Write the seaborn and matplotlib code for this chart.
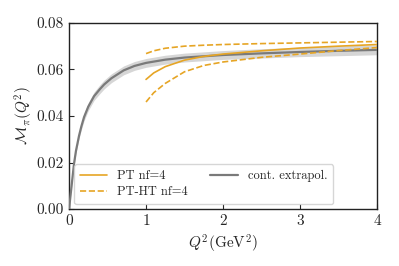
import numpy as np
import pandas as pd
import matplotlib
matplotlib.use("Agg")
import matplotlib.pyplot as plt
import seaborn as sns

# ---- data ----
q2_ext = [0.0, 0.015, 0.03, 0.05, 0.065, 0.09, 0.13, 0.16, 0.195, 0.25, 0.325, 0.4, 0.455,
          0.55, 0.71, 0.85, 1.0, 1.25, 1.5, 2.0, 2.5, 3.0, 3.5, 4.0]
m_ext = [0.0, 0.0045, 0.009, 0.0150, 0.0195, 0.0250, 0.0315, 0.0355, 0.0395, 0.0440, 0.0485, 0.0515,
         0.0535, 0.0562, 0.0596, 0.0615, 0.0628, 0.0642, 0.0651, 0.0662, 0.0669, 0.0675, 0.0680, 0.0684]
m_ext_err = [0.0, 0.0003, 0.0005, 0.0007, 0.0008, 0.0010, 0.0012, 0.0014, 0.0016, 0.0017, 0.0018,
             0.0019, 0.0019, 0.0019, 0.0019, 0.0019, 0.0019, 0.0019, 0.0019, 0.0019, 0.0020, 0.0020, 0.0021, 0.0021]

q2_pt = [1.0, 1.1, 1.25, 1.5, 1.75, 2.0, 2.5, 3.0, 3.5, 4.0]
m_pt = [0.0557, 0.0585, 0.0612, 0.0640, 0.0656, 0.0666, 0.0680, 0.0692, 0.0700, 0.0707]
m_ptht_up = [0.0668, 0.0680, 0.0691, 0.0700, 0.0704, 0.0707, 0.0711, 0.0714, 0.0717, 0.0720]
m_ptht_lo = [0.0460, 0.0500, 0.0540, 0.0590, 0.0617, 0.0632, 0.0652, 0.0666, 0.0681, 0.0694]

xticks = [0, 1, 2, 3, 4]
yticks = [0.00, 0.02, 0.04, 0.06, 0.08]

labels = ["PT nf=4", "PT-HT nf=4", "cont. extrapol."]

# ---- style ----
sns.set_style("ticks")
plt.rcParams["font.family"] = ["cmr10", "DejaVu Serif"]
plt.rcParams["mathtext.fontset"] = "cm"
plt.rcParams["axes.formatter.use_mathtext"] = True
plt.rcParams["axes.unicode_minus"] = False

orange = "#E6A525"
grey = "#7a7a7a"

fig = plt.figure(figsize=(3.99, 2.66), dpi=100)
ax = fig.add_axes([0.173, 0.214, 0.772, 0.700])

df_ext = pd.DataFrame({"q2": q2_ext, "m": m_ext, "e": m_ext_err})
df_pt = pd.DataFrame({"q2": q2_pt, "pt": m_pt, "up": m_ptht_up, "lo": m_ptht_lo})

ax.fill_between(df_ext["q2"], df_ext["m"] - df_ext["e"], df_ext["m"] + df_ext["e"],
                color="#d6d6d6", lw=0, zorder=1)
sns.lineplot(data=df_ext, x="q2", y="m", ax=ax, color=grey, lw=1.6, label=labels[2], zorder=3)
sns.lineplot(data=df_pt, x="q2", y="pt", ax=ax, color=orange, lw=1.2, label=labels[0], zorder=4)
sns.lineplot(data=df_pt, x="q2", y="up", ax=ax, color=orange, lw=1.2, ls="--", label=labels[1], zorder=4)
sns.lineplot(data=df_pt, x="q2", y="lo", ax=ax, color=orange, lw=1.2, ls="--", zorder=4)

ax.set_xlim(0, 4)
ax.set_ylim(0, 0.08)
ax.set_xticks(xticks)
ax.set_xticklabels([str(t) for t in xticks])
ax.set_yticks(yticks)
ax.set_yticklabels([f"{t:.2f}" for t in yticks])
ax.tick_params(direction="in", length=3.5, width=0.8, labelsize=11, pad=4)
ax.set_xlabel(r"$Q^2(\mathrm{GeV}^2)$", fontsize=11, labelpad=3)
ax.set_ylabel(r"$\mathcal{M}_\pi(Q^2)$", fontsize=11, labelpad=1)
for s in ax.spines.values():
    s.set_color("#222222")
    s.set_linewidth(1.0)

h, l = ax.get_legend_handles_labels()
order = [l.index(x) for x in labels]
leg = ax.legend([h[i] for i in order], [l[i] for i in order], ncol=2, loc="lower left",
                fontsize=9, frameon=True, borderaxespad=0.4, columnspacing=1.8,
                handlelength=2.2, labelspacing=0.35, borderpad=0.45)
leg.get_frame().set_edgecolor("#cccccc")

fig.savefig("out.png", dpi=100)
